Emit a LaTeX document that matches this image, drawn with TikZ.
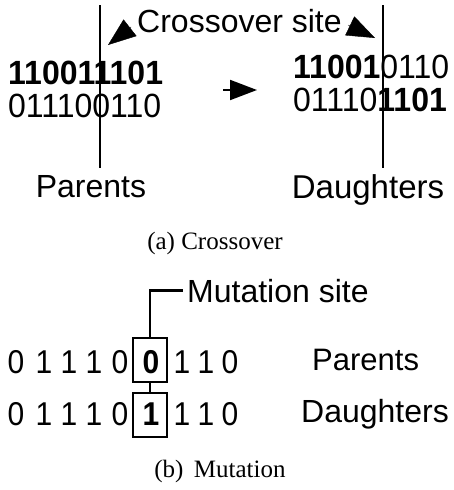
\documentclass[tikz,border=0pt]{standalone}
\usepackage{fontspec}
\setmainfont{Liberation Sans}
\newfontfamily\capfont{Liberation Serif}
\usetikzlibrary{arrows.meta}
\tikzset{>=latex}
\tikzset{
  bits/.style = {inner sep = 0pt, yscale = 1.05, font = \fontsize{32}{32}\selectfont},
  tag/.style = {inner sep = 0pt, font = \fontsize{32}{32}\selectfont},
  caption/.style = {inner sep = 0pt, font = \capfont\fontsize{25}{25}\selectfont},
  digit/.style = {inner sep = 0pt, yscale = 1.1, font = \fontsize{30}{30}\selectfont},
  cut/.style = {line width = 2},
  tip/.style = {-{Triangle[length = 28pt, width = 21pt]}},
  sitebox/.style = {draw, line width = 1.8, minimum width = 34pt, minimum height = 44pt, inner sep = 0pt}
}

\begin{document}
\begin{tikzpicture}[x = 1pt, y = -1pt]
\useasboundingbox (0, 0) rectangle (454, 490);
\coordinate (cutLtop) at (100, 5);
\coordinate (cutLbot) at (100, 168);
\coordinate (cutRtop) at (383, 5);
\coordinate (cutRbot) at (383, 168);
\draw[cut] (cutLtop) -- (cutLbot);
\draw[cut] (cutRtop) -- (cutRbot);
\node[tag, anchor = base west] (site) at (137, 32) {Crossover site};
\coordinate (baseL) at (131, 27);
\coordinate (tipL) at (108, 45);
\coordinate (baseR) at (348, 25);
\coordinate (tipR) at (375, 38);
\draw[tip] (baseL) -- (tipL);
\draw[tip] (baseR) -- (tipR);
\node[bits, anchor = base west] (pa1) at (8, 84) {\textbf{110011101}};
\node[bits, anchor = base west] (pa2) at (8, 117) {011100110};
\node[bits, anchor = base west] (da1) at (293, 78) {\textbf{11001}0110};
\node[bits, anchor = base west] (da2) at (293, 111) {01110\textbf{1101}};
\coordinate (goA) at (223, 90);
\coordinate (goB) at (257, 90);
\draw[-{Triangle[length = 27pt, width = 20pt]}, line width = 2] (goA) -- (goB);
\node[tag, anchor = base] (parA) at (91, 197) {Parents};
\node[tag, anchor = base, font = \fontsize{33}{33}\selectfont] (dauA) at (368, 198) {Daughters};
\node[caption, anchor = base] (capA) at (215, 249) {(a) Crossover};

\foreach \x/\b [count = \i] in {16/0, 44/1, 69/1, 94/1, 120/0, 182/1, 206/1, 230/0} {
  \node[digit] (m\i) at (\x, 362) {\b};
  \node[digit] (n\i) at (\x, 414) {\b};
}
\node[sitebox] (box1) at (150, 360) {};
\node[sitebox] (box2) at (150, 415) {};
\node[digit, font = \fontsize{30}{30}\selectfont\bfseries] (old) at (151, 362) {0};
\node[digit, font = \fontsize{30}{30}\selectfont\bfseries] (new) at (151, 414) {1};
\draw[line width = 1.8] (box1.south) -- (box2.north);
\node[tag, anchor = base west] (mut) at (187, 302) {Mutation site};
\draw[line width = 2.4] (box1.north) |- ([xshift = -4pt]mut.west);
\node[tag, anchor = base west, font = \fontsize{31}{31}\selectfont] (parB) at (312, 370) {Parents};
\node[tag, anchor = base west] (dauB) at (301, 422) {Daughters};
\node[caption, anchor = base] (capB) at (220, 477) {(b)\ \,Mutation};
\end{tikzpicture}
\end{document}
